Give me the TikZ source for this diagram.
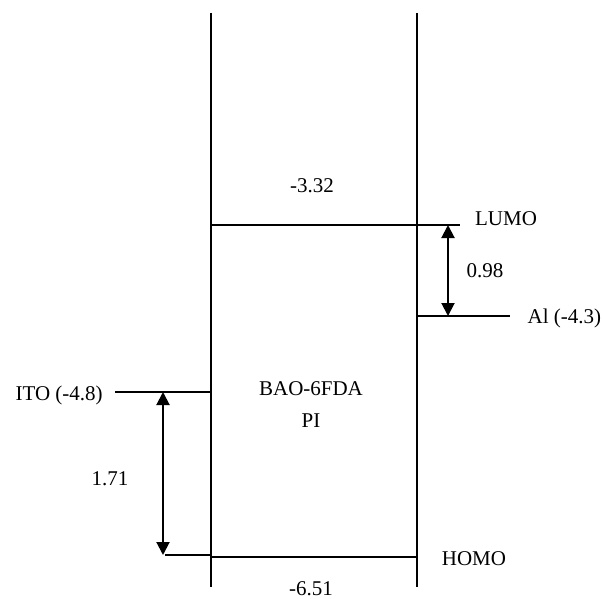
\documentclass[tikz,border=0pt]{standalone}
\usepackage{fontspec}
\setmainfont{Liberation Serif}
\usetikzlibrary{arrows.meta}

\begin{document}
\begin{tikzpicture}[x=1pt, y=-1pt, line width=1.2pt,
  >={Triangle[length=13pt,width=13pt]},
  gap/.style={<->, line width=2pt},
  lbl/.style={font=\fontsize{21}{25}\selectfont, inner sep=0pt, anchor=base}]
  \useasboundingbox (0,0) rectangle (602,599);

  % walls of the layer
  \coordinate (lt) at (211,13);
  \coordinate (lb) at (211,587);
  \coordinate (rt) at (417,13);
  \coordinate (rb) at (417,587);
  \draw (lt) -- (lb);
  \draw (rt) -- (rb);

  % levels
  \coordinate (lumoL) at (211,225);
  \coordinate (lumoR) at (460,225);
  \coordinate (alL) at (417,316);
  \coordinate (alR) at (510,316);
  \coordinate (itoL) at (115,392);
  \coordinate (itoR) at (211,392);
  \coordinate (stepL) at (165,555);
  \coordinate (stepR) at (211,555);
  \coordinate (homoL) at (211,557);
  \coordinate (homoR) at (417,557);
  \draw (lumoL) -- (lumoR);
  \draw (alL) -- (alR);
  \draw (itoL) -- (itoR);
  \draw (stepL) -- (stepR);
  \draw (homoL) -- (homoR);

  % gaps
  \coordinate (g1a) at (448,225);
  \coordinate (g1b) at (448,316);
  \coordinate (g2a) at (163,392);
  \coordinate (g2b) at (163,555);
  \draw[gap] (g1a) -- (g1b);
  \draw[gap] (g2a) -- (g2b);

  % labels
  \node[lbl] (lumoval) at (312,192) {-3.32};
  \node[lbl] (lumo) at (506,225) {LUMO};
  \node[lbl] (d1) at (485,277) {0.98};
  \node[lbl, anchor=base west] (al) at (527,323) {Al (-4.3)};
  \node[lbl, anchor=base west] (ito) at (15,400) {ITO (-4.8)};
  \node[lbl] (poly) at (311,395) {BAO-6FDA};
  \node[lbl] (pi) at (311,427) {PI};
  \node[lbl] (d2) at (110,485) {1.71};
  \node[lbl] (homo) at (474,565) {HOMO};
  \node[lbl] (homoval) at (311,595) {-6.51};
\end{tikzpicture}
\end{document}
